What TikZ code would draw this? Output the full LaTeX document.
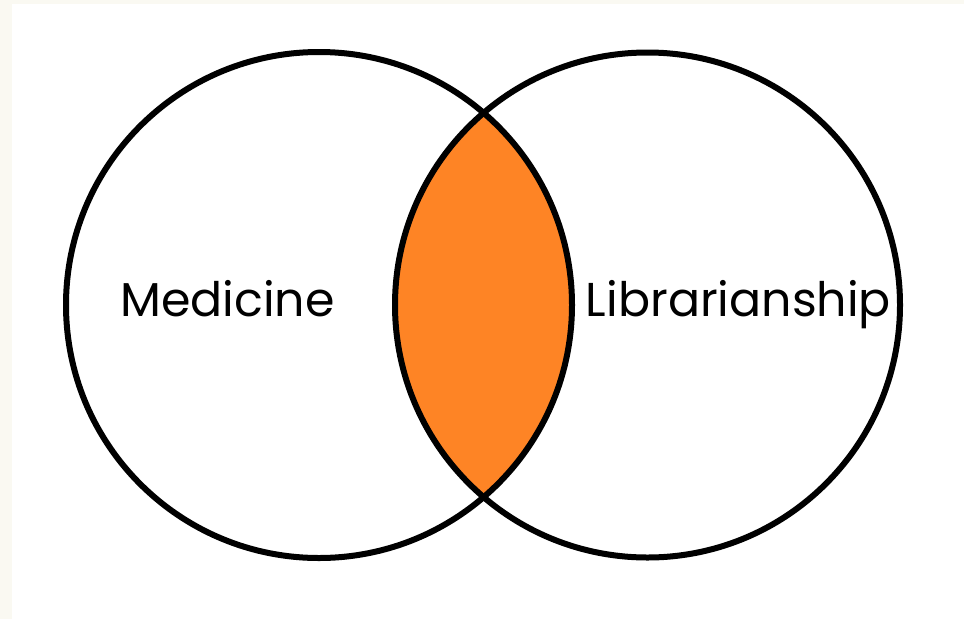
\documentclass[tikz,border=0pt]{standalone}
\usepackage{fontspec}
\setmainfont{Poppins}
\definecolor{cream}{RGB}{250,249,242}
\definecolor{lensorange}{RGB}{254,132,37}
\tikzset{
  ring/.style={circle, draw=black, line width=6pt, minimum size=#1, inner sep=0pt, outer sep=0pt},
  label/.style={anchor=base, font=\fontsize{47.5}{56}\selectfont, inner sep=0pt}
}
\begin{document}
\begin{tikzpicture}[x=1pt,y=-1pt]
\fill[cream] (0,0) rectangle (964,619);
\fill[white] (12,4) rectangle (964,619);
\useasboundingbox (0,0) rectangle (964,619);
\begin{scope}
  \clip (319,305) circle (253);
  \fill[lensorange] (647.5,305) circle (252.5);
\end{scope}
\node[ring=506pt] (medicine circle) at (319,305) {};
\node[ring=505pt] (librarianship circle) at (647.5,305) {};
\node[label] (medicine) at (227.5,316) {Medicine};
\node[label] (librarianship) at (738.5,316) {Librarianship};
\end{tikzpicture}
\end{document}
